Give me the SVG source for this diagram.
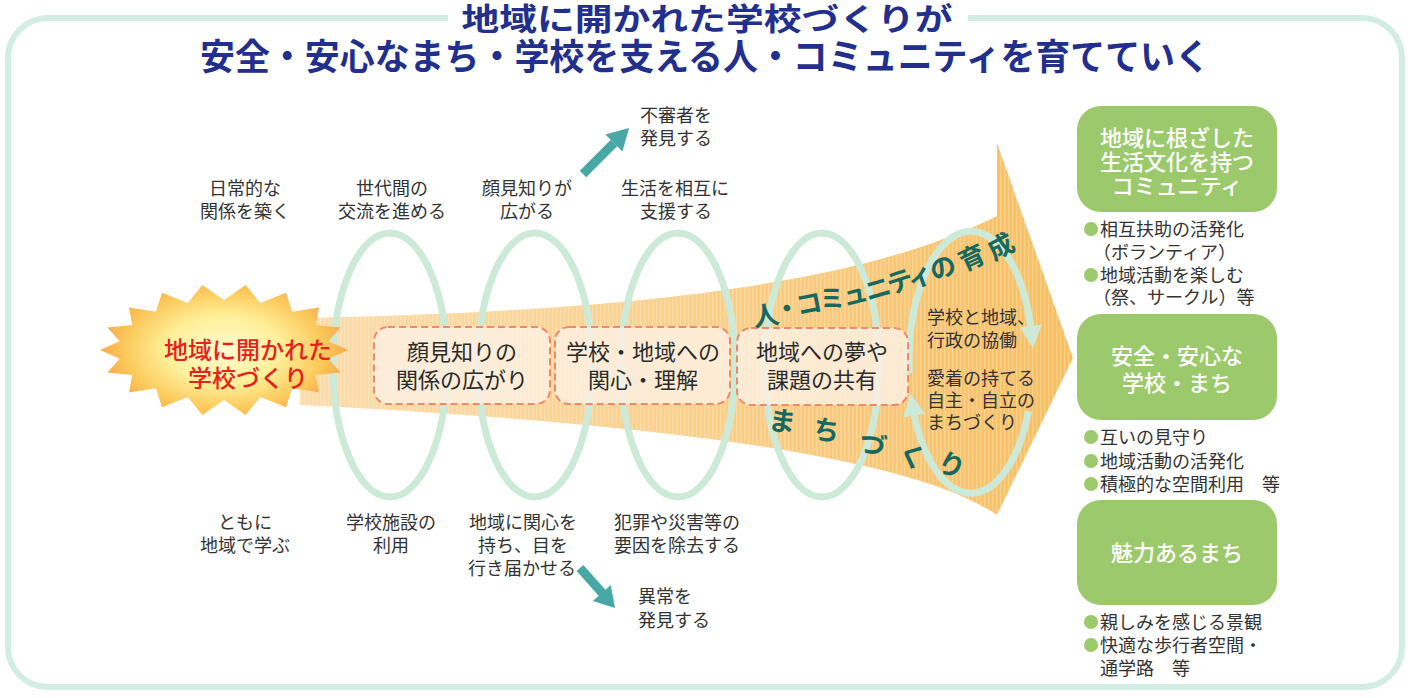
<svg xmlns="http://www.w3.org/2000/svg" width="1413" height="698" viewBox="0 0 1413 698">
<defs>
<style>
.t{font-family:"Noto Sans CJK JP","Noto Sans",sans-serif;}
.title{fill:#232f8c;font-weight:700;}
.mid{font-size:18px;fill:#333;}
.box{font-size:22px;fill:#2b2b2b;text-anchor:middle;}
.gbt{font-size:22px;fill:#fff;text-anchor:middle;font-weight:500;}
.bul{font-size:18px;fill:#333;}
.teal{fill:#17685f;font-weight:700;text-anchor:middle;}
.ell{fill:none;stroke:#cde9d8;stroke-width:7;}
.dash{fill:#fdf0e3;fill-opacity:0.82;stroke:#ec8a6c;stroke-width:2;stroke-dasharray:7 4;}
.gbox{fill:#9cc96c;}
.dot{fill:#9cc96c;}
.ta{fill:#48a8a6;}
</style>
<linearGradient id="ag" x1="300" y1="0" x2="1073" y2="0" gradientUnits="userSpaceOnUse">
<stop offset="0" stop-color="#fcdcaa"/>
<stop offset="0.5" stop-color="#fbd08a"/>
<stop offset="1" stop-color="#f8bf60"/>
</linearGradient>
<pattern id="stripe" width="4" height="10" patternUnits="userSpaceOnUse">
<rect x="0" y="0" width="1.3" height="10" fill="#ffffff" fill-opacity="0.22"/>
</pattern>
<radialGradient id="sg" cx="224" cy="350" r="125" gradientUnits="userSpaceOnUse" gradientTransform="translate(224 350) scale(1 0.6) translate(-224 -350)">
<stop offset="0" stop-color="#fffbd0"/>
<stop offset="0.45" stop-color="#fff09a"/>
<stop offset="0.8" stop-color="#fcc85a"/>
<stop offset="1" stop-color="#f6a94a"/>
</radialGradient>
<marker id="mh" viewBox="0 0 10 10" refX="4" refY="5" markerWidth="3.2" markerHeight="3.2" orient="auto" markerUnits="strokeWidth">
<path d="M0,0 L10,5 L0,10 z" fill="#cde9d8"/>
</marker>
</defs>

<rect x="0" y="0" width="1413" height="698" fill="#ffffff"/>

<g id="frame">
<rect x="8" y="18" width="1394" height="669" rx="40" fill="none" stroke="#d3ede4" stroke-width="6"/>
<rect x="448" y="6" width="520" height="26" fill="#ffffff"/>
</g>

<g id="title" class="t title">
<text x="707" y="30" font-size="31" text-anchor="middle" textLength="491" lengthAdjust="spacingAndGlyphs">地域に開かれた学校づくりが</text>
<text x="705" y="70" font-size="36" text-anchor="middle" textLength="1010" lengthAdjust="spacingAndGlyphs">安全・安心なまち・学校を支える人・コミュニティを育てていく</text>
</g>

<g id="big-arrow">
<path d="M300,318 C600,312 850,290 997,216 L997,143 L1073,358 L997,515 C920,462 700,425 300,405 Z" fill="url(#ag)"/>
<path d="M300,318 C600,312 850,290 997,216 L997,143 L1073,358 L997,515 C920,462 700,425 300,405 Z" fill="url(#stripe)"/>
</g>

<g id="loops">
<ellipse class="ell" cx="390" cy="365" rx="57" ry="132"/>
<ellipse class="ell" cx="535" cy="365" rx="57" ry="132"/>
<ellipse class="ell" cx="678" cy="365" rx="57" ry="132"/>
<ellipse class="ell" cx="822" cy="365" rx="57" ry="132"/>
<path class="ell" d="M909.2,373.4 A62,131 0 0 1 1031.6,334.8" marker-end="url(#mh)"/>
<path class="ell" d="M1028.5,411.1 A62,131 0 0 1 912.7,406.8" marker-end="url(#mh)"/>
</g>

<g id="start-node">
<polygon fill="url(#sg)" points="348,350 328.4,358.7 340.6,372.6 315.8,375 319,392.4 292.2,388.3 286,407.2 260.3,397 245.6,415 224,400 202.4,415 187.7,397 162,407.2 155.8,388.3 129,392.4 132.2,375 107.4,372.6 119.6,358.7 100,350 119.6,341.3 107.4,327.4 132.2,325 129,307.6 155.8,311.7 162,292.8 187.7,303 202.4,285 224,300 245.6,285 260.3,303 286,292.8 292.2,311.7 319,307.6 315.8,325 340.6,327.4 328.4,341.3"/>
<text class="t" x="248" y="359" font-size="24" fill="#e5231b" text-anchor="middle" font-weight="500">地域に開かれた</text>
<text class="t" x="248" y="387" font-size="24" fill="#e5231b" text-anchor="middle" font-weight="500">学校づくり</text>
</g>

<g id="box1">
<rect class="dash" x="374" y="327" width="176" height="77" rx="14"/>
<text class="t box" x="462" y="360">顔見知りの</text>
<text class="t box" x="462" y="388">関係の広がり</text>
</g>
<g id="box2">
<rect class="dash" x="555" y="327" width="175" height="77" rx="14"/>
<text class="t box" x="643" y="360">学校・地域への</text>
<text class="t box" x="643" y="388">関心・理解</text>
</g>
<g id="box3">
<rect class="dash" x="737" y="328" width="171" height="77" rx="14"/>
<text class="t box" x="822" y="360">地域への夢や</text>
<text class="t box" x="822" y="388">課題の共有</text>
</g>

<g id="curved-labels" class="t teal">
<text font-size="26" transform="translate(766 316) rotate(-9)" y="9">人</text>
<text font-size="26" transform="translate(787 309) rotate(-10)" y="9">・</text>
<text font-size="26" transform="translate(809 304) rotate(-11)" y="9">コ</text>
<text font-size="26" transform="translate(832 299) rotate(-12)" y="9">ミ</text>
<text font-size="26" transform="translate(855 294) rotate(-14)" y="9">ュ</text>
<text font-size="26" transform="translate(878 289) rotate(-16)" y="9">ニ</text>
<text font-size="26" transform="translate(900 282) rotate(-18)" y="9">テ</text>
<text font-size="26" transform="translate(920 276) rotate(-20)" y="9">ィ</text>
<text font-size="26" transform="translate(943 268) rotate(-22)" y="9">の</text>
<text font-size="26" transform="translate(972 258) rotate(-25)" y="9">育</text>
<text font-size="26" transform="translate(1001 247) rotate(-28)" y="9">成</text>
<text font-size="27" transform="translate(782 422) rotate(8)" y="9">ま</text>
<text font-size="27" transform="translate(826 431) rotate(12)" y="9">ち</text>
<text font-size="27" transform="translate(872 445) rotate(18)" y="9">づ</text>
<text font-size="27" transform="translate(912 457) rotate(24)" y="9">く</text>
<text font-size="27" transform="translate(951 466) rotate(26)" y="9">り</text>
</g>

<g id="loop-text" class="t mid">
<text x="927" y="324">学校と地域、</text>
<text x="927" y="347">行政の協働</text>
<text x="927" y="385">愛着の持てる</text>
<text x="927" y="407">自主・自立の</text>
<text x="927" y="429">まちづくり</text>
</g>

<g id="top-labels" class="t mid" text-anchor="middle">
<text x="245" y="195">日常的な</text>
<text x="245" y="218">関係を築く</text>
<text x="392" y="195">世代間の</text>
<text x="392" y="218">交流を進める</text>
<text x="527" y="195">顔見知りが</text>
<text x="527" y="218">広がる</text>
<text x="675" y="195">生活を相互に</text>
<text x="676" y="218">支援する</text>
</g>
<g id="suspicious" class="t mid">
<text x="640" y="122">不審者を</text>
<text x="640" y="145">発見する</text>
</g>

<g id="bottom-labels" class="t mid" text-anchor="middle">
<text x="245" y="529">ともに</text>
<text x="245" y="552">地域で学ぶ</text>
<text x="391" y="529">学校施設の</text>
<text x="391" y="552">利用</text>
<text x="523" y="529">地域に関心を</text>
<text x="523" y="552">持ち、目を</text>
<text x="522" y="575">行き届かせる</text>
<text x="677" y="529">犯罪や災害等の</text>
<text x="677" y="552">要因を除去する</text>
</g>
<g id="abnormal" class="t mid">
<text x="638" y="603">異常を</text>
<text x="638" y="627">発見する</text>
</g>

<g id="connectors">
<line x1="583" y1="174" x2="614" y2="143" stroke="#48a8a6" stroke-width="9"/>
<polygon class="ta" points="629,128 622.4,151.6 605.4,134.6"/>
<line x1="580" y1="568" x2="604" y2="595" stroke="#48a8a6" stroke-width="9"/>
<polygon class="ta" points="615,608 610.8,585.1 592.8,600.9"/>
</g>

<g id="goal1">
<rect class="gbox" x="1077" y="106" width="200" height="106" rx="24"/>
<text class="t gbt" x="1177" y="146">地域に根ざした</text>
<text class="t gbt" x="1177" y="170">生活文化を持つ</text>
<text class="t gbt" x="1177" y="194">コミュニティ</text>
<circle class="dot" cx="1091" cy="229" r="7"/>
<text class="t bul" x="1100" y="236">相互扶助の活発化</text>
<text class="t bul" x="1093" y="259">（ボランティア）</text>
<circle class="dot" cx="1091" cy="275" r="7"/>
<text class="t bul" x="1100" y="282">地域活動を楽しむ</text>
<text class="t bul" x="1093" y="304">（祭、サークル）等</text>
</g>

<g id="goal2">
<rect class="gbox" x="1077" y="314" width="200" height="106" rx="24"/>
<text class="t gbt" x="1177" y="364">安全・安心な</text>
<text class="t gbt" x="1177" y="391">学校・まち</text>
<circle class="dot" cx="1091" cy="437" r="7"/>
<text class="t bul" x="1100" y="444">互いの見守り</text>
<circle class="dot" cx="1091" cy="461" r="7"/>
<text class="t bul" x="1100" y="468">地域活動の活発化</text>
<circle class="dot" cx="1091" cy="484" r="7"/>
<text class="t bul" x="1100" y="491">積極的な空間利用　等</text>
</g>

<g id="goal3">
<rect class="gbox" x="1077" y="500" width="200" height="105" rx="24"/>
<text class="t gbt" x="1177" y="561">魅力あるまち</text>
<circle class="dot" cx="1091" cy="622" r="7"/>
<text class="t bul" x="1100" y="629">親しみを感じる景観</text>
<circle class="dot" cx="1091" cy="645" r="7"/>
<text class="t bul" x="1100" y="652">快適な歩行者空間・</text>
<text class="t bul" x="1100" y="675">通学路　等</text>
</g>
</svg>
